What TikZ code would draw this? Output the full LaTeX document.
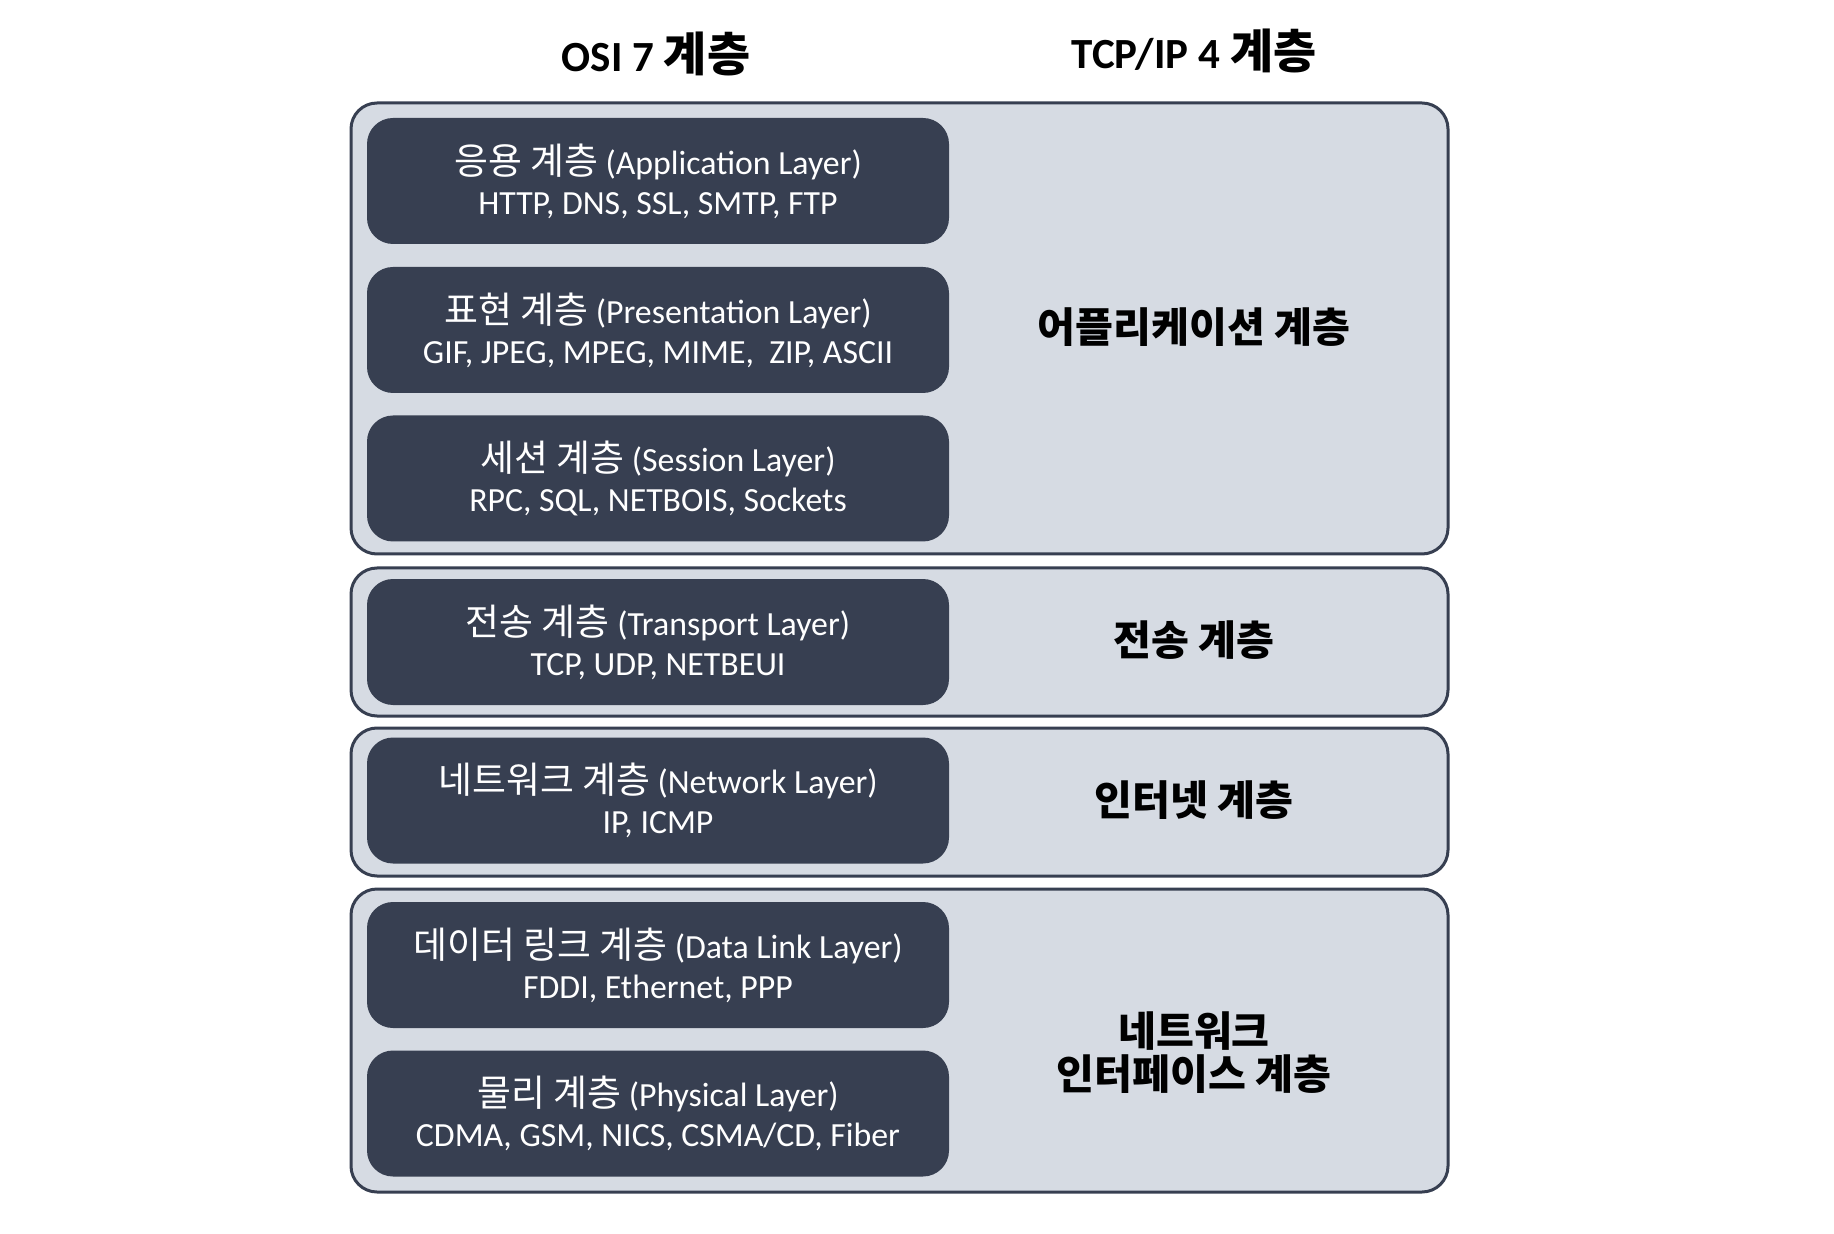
\documentclass[tikz,border=0pt]{standalone}
\usepackage{fontspec}
\setmainfont{Carlito}
\newfontfamily\kr{Noto Sans CJK KR}[Scale=1.09]
\definecolor{slate}{HTML}{373F51}
\definecolor{mist}{HTML}{D6DBE3}
\begin{document}
\begin{tikzpicture}[x=0.5pt, y=-0.5pt,
    grpbox/.style={draw=slate, line width=1.5pt, fill=mist, rounded corners=13pt, minimum width=548.5pt, inner sep=0pt},
    layer/.style={fill=slate, rounded corners=13pt, minimum width=291pt, minimum height=63pt, inner sep=0pt, text=white, align=center, font=\fontsize{16.9}{20}\selectfont},
    tcplabel/.style={align=center, font=\kr\bfseries\fontsize{18.9}{21.6}\selectfont},
    heading/.style={font=\bfseries\fontsize{21.5}{25}\selectfont}]
  \useasboundingbox (0,0) rectangle (1834,1234);

  % TCP/IP groups
  \node[grpbox, minimum height=225.5pt] (appgrp) at (899.5,328.5) {};
  \node[grpbox, minimum height=74pt] (trngrp) at (899.5,642) {};
  \node[grpbox, minimum height=74pt] (netgrp) at (899.5,802) {};
  \node[grpbox, minimum height=151.5pt] (ifgrp) at (899.5,1040.5) {};

  % OSI layers
  \node[layer] (app) at (658,181) {{\kr 응용 계층} (Application Layer)\\HTTP, DNS, SSL, SMTP, FTP};
  \node[layer] (pres) at (658,330) {{\kr 표현 계층} (Presentation Layer)\\GIF, JPEG, MPEG, MIME,\ \ ZIP, ASCII};
  \node[layer] (sess) at (658,478.5) {{\kr 세션 계층} (Session Layer)\\RPC, SQL, NETBOIS, Sockets};
  \node[layer] (trans) at (658,642) {{\kr 전송 계층} (Transport Layer)\\TCP, UDP, NETBEUI};
  \node[layer] (net) at (658,800.5) {{\kr 네트워크 계층} (Network Layer)\\IP, ICMP};
  \node[layer] (dl) at (658,965) {{\kr 데이터 링크 계층} (Data Link Layer)\\FDDI, Ethernet, PPP};
  \node[layer] (phy) at (658,1113.5) {{\kr 물리 계층} (Physical Layer)\\CDMA, GSM, NICS, CSMA/CD, Fiber};

  % TCP/IP labels
  \node[tcplabel] (applbl) at (1194,327) {어플리케이션 계층};
  \node[tcplabel] (trnlbl) at (1194,640) {전송 계층};
  \node[tcplabel] (netlbl) at (1194,800) {인터넷 계층};
  \node[tcplabel] (iflbl) at (1194,1053) {네트워크\\인터페이스 계층};

  % headings
  \node[heading] (osi) at (656,54) {OSI 7 {\kr 계층}};
  \node[heading] (tcpip) at (1194,51) {TCP/IP 4 {\kr 계층}};
\end{tikzpicture}
\end{document}
